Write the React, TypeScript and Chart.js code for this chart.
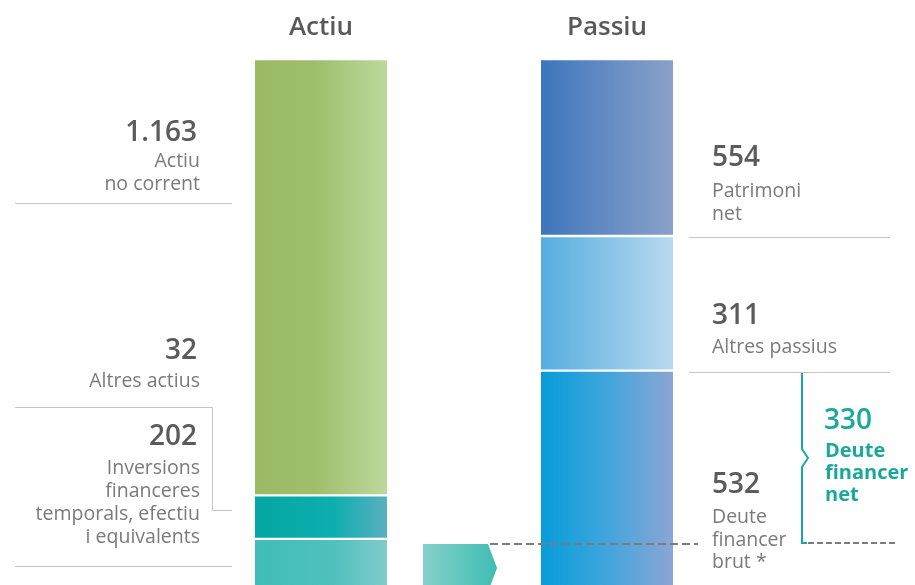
import { useEffect, useRef } from "react";
import { Chart, registerables } from "chart.js";

Chart.register(...registerables);

// ---- data ----
const categories = ["Actiu", "Passiu"];
// amounts shown next to the bars (milions)
const actiuValues = [1163, 32, 202];
const passiuValues = [554, 311, 532];
const netDebtValue = 330;
const actiuLabels = [["Actiu", "no corrent"], ["Altres actius"], ["Inversions", "financeres", "temporals, efectiu", "i equivalents"]];
const passiuLabels = [["Patrimoni", "net"], ["Altres passius"], ["Deute", "financer", "brut *"]];
const netDebtLabel = ["Deute", "financer", "net"];
// drawn segment lengths of the schematic (not to scale), top to bottom
const actiuSegments = [435.5, 43.5, 120];
const passiuSegments = [176.5, 134.5, 260];

const BAR = 132;
const FONT = "'Open Sans', 'Noto Sans', sans-serif";

const gradStops: [number, string][][][] = [
  [
    [[0, "#9bba66"], [0.45, "#9ebe6c"], [1, "#bcd99d"]],
    [[0, "#3d76bc"], [1, "#8aa1c9"]],
  ],
  [
    [[0, "#04a7a2"], [0.6, "#0daeae"], [1, "#5bb0c0"]],
    [[0, "#55ade0"], [1, "#bad9ef"]],
  ],
  [
    [[0, "#41bdb7"], [0.6, "#50c1bd"], [1, "#80cbcb"]],
    [[0, "#069dd9"], [0.5, "#40a5dc"], [1, "#8ca5d6"]],
  ],
];

const fmt = (v: number) => String(v).replace(/\B(?=(\d{3})+(?!\d))/g, ".");

function text(ctx: CanvasRenderingContext2D, s: string, x: number, y: number, align: CanvasTextAlign, font: string, color: string) {
  ctx.font = font;
  ctx.fillStyle = color;
  ctx.textAlign = align;
  ctx.textBaseline = "middle";
  ctx.fillText(s, x, y);
}

const annotations = {
  id: "annotations",
  afterDatasetsDraw(chart: any) {
    const ctx: CanvasRenderingContext2D = chart.ctx;
    ctx.save();

    // arrow
    const ag = ctx.createLinearGradient(423, 0, 497, 0);
    ag.addColorStop(0, "#86d0ca");
    ag.addColorStop(1, "#3fbdb3");
    ctx.fillStyle = ag;
    ctx.beginPath();
    ctx.moveTo(423, 544);
    ctx.lineTo(488, 544);
    ctx.lineTo(497, 568);
    ctx.lineTo(488, 592);
    ctx.lineTo(423, 592);
    ctx.closePath();
    ctx.fill();

    // thin grey separators
    ctx.strokeStyle = "#c6c6c6";
    ctx.lineWidth = 1;
    ctx.beginPath();
    ctx.moveTo(15, 203.5); ctx.lineTo(232, 203.5);
    ctx.moveTo(15, 407.5); ctx.lineTo(212.5, 407.5); ctx.lineTo(212.5, 510.5); ctx.lineTo(232, 510.5);
    ctx.moveTo(15, 566.5); ctx.lineTo(232, 566.5);
    ctx.moveTo(689, 237.5); ctx.lineTo(890, 237.5);
    ctx.moveTo(689, 372.5); ctx.lineTo(890, 372.5);
    ctx.stroke();

    // dashed lines
    ctx.strokeStyle = "#7c7c7c";
    ctx.lineWidth = 2;
    ctx.setLineDash([8, 4]);
    ctx.beginPath();
    ctx.moveTo(490, 544); ctx.lineTo(698, 544);
    ctx.stroke();
    ctx.setLineDash([6, 3]);
    ctx.beginPath();
    ctx.moveTo(808, 543); ctx.lineTo(897, 543);
    ctx.stroke();
    ctx.setLineDash([]);

    // bracket
    ctx.strokeStyle = "#1ba99d";
    ctx.lineWidth = 2;
    ctx.beginPath();
    ctx.moveTo(802, 373);
    ctx.lineTo(802, 449);
    ctx.lineTo(808, 458);
    ctx.lineTo(802, 467);
    ctx.lineTo(802, 543);
    ctx.lineTo(807, 543);
    ctx.stroke();

    const numFont = `600 28px ${FONT}`;
    const labFont = `400 19.5px ${FONT}`;
    const numCol = "#5b5b5b";
    const labCol = "#7a7a7a";

    // left side
    const leftNumY = [133, 351, 437];
    const leftLabY = [[161, 184], [381], [468, 491, 514, 537]];
    actiuValues.forEach((v, i) => {
      text(ctx, fmt(v), 197, leftNumY[i], "right", numFont, numCol);
      actiuLabels[i].forEach((l, j) => text(ctx, l, 200, leftLabY[i][j], "right", labFont, labCol));
    });

    // right side
    const rightNumY = [158, 316, 485];
    const rightLabY = [[191, 214], [347], [517, 540, 562]];
    passiuValues.forEach((v, i) => {
      text(ctx, fmt(v), 712, rightNumY[i], "left", numFont, numCol);
      passiuLabels[i].forEach((l, j) => text(ctx, l, 712, rightLabY[i][j], "left", labFont, labCol));
    });

    // net debt
    const teal = "#1aa89c";
    text(ctx, fmt(netDebtValue), 824, 421, "left", numFont, teal);
    [451, 473, 495].forEach((y, j) => text(ctx, netDebtLabel[j], 825, y, "left", `700 20px ${FONT}`, teal));

    ctx.restore();
  },
};

export default function App() {
  const ref = useRef<HTMLCanvasElement | null>(null);

  useEffect(() => {
    if (!ref.current) return;
    const bg = (c: any) => {
      const stops = gradStops[c.datasetIndex]?.[c.dataIndex];
      if (!stops) return "#999";
      const chart = c.chart;
      const xs = chart.scales?.x;
      if (!xs || !chart.chartArea) return stops[0][1];
      const cx = xs.getPixelForValue(c.dataIndex);
      const g = chart.ctx.createLinearGradient(cx - BAR / 2, 0, cx + BAR / 2, 0);
      stops.forEach(([o, col]: [number, string]) => g.addColorStop(o, col));
      return g;
    };
    const datasets = actiuSegments.map((a, i) => ({
      label: `segment ${i + 1}`,
      data: [a, passiuSegments[i]],
      backgroundColor: bg,
      borderColor: "#ffffff",
      borderWidth: { top: 1.5, bottom: 1.5, left: 0, right: 0 },
      borderSkipped: false as const,
      barThickness: BAR,
    }));
    const chart = new Chart(ref.current, {
      type: "bar",
      data: { labels: categories, datasets },
      options: {
        responsive: false,
        animation: false,
        devicePixelRatio: 1,
        layout: { padding: { top: -4, left: 178, right: 165, bottom: 0 } },
        plugins: { legend: { display: false }, tooltip: { enabled: false } },
        scales: {
          x: {
            position: "top",
            stacked: true,
            grid: { display: false, drawTicks: false },
            border: { display: false },
            ticks: { color: "#595959", font: { family: FONT, size: 26, weight: "600" }, padding: 16 },
          },
          y: { display: false, stacked: true, reverse: true, min: 0, max: 525 },
        },
      },
      plugins: [annotations],
    });
    return () => chart.destroy();
  }, []);

  return (
    <div style={{ position: "fixed", left: 0, top: 0, width: 915, height: 585, background: "#fff" }}>
      <canvas ref={ref} width={915} height={585} style={{ display: "block" }} />
    </div>
  );
}
